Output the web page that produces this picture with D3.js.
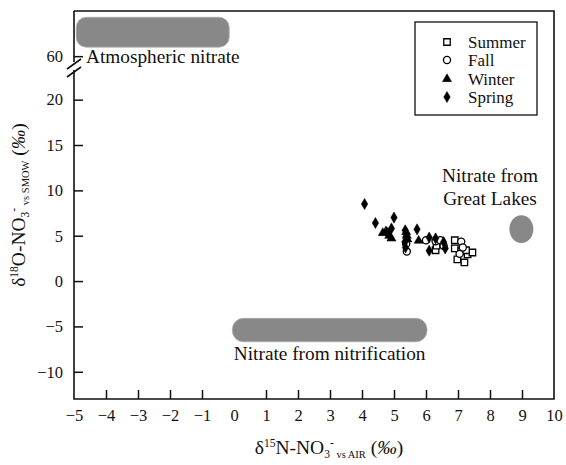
<!DOCTYPE html>
<html>
<head>
<meta charset="utf-8">
<script src="https://cdn.jsdelivr.net/npm/d3@7"></script>
<style>
  body { margin: 0; background: #fff; }
  svg { display: block; }
  svg text { font-family: "Liberation Serif", "Times New Roman", "DejaVu Serif", serif; fill: #111; }
</style>
</head>
<body>
<svg width="566" height="465"></svg>
<script>
// Isotope values (x = d15N, y = d18O, per mil)
const summer = [[6.3, 3.4], [6.33, 3.9], [6.9, 4.5], [6.9, 3.6], [6.98, 2.4], [7.2, 2.05], [7.1, 3.3], [7.3, 2.95], [7.45, 3.15], [7.25, 3.4]];
const fall = [[5.4, 3.25], [5.38, 4.1], [6.0, 4.5], [6.3, 4.4], [6.45, 4.5], [6.55, 3.9], [7.1, 4.35], [7.15, 3.7], [7.05, 3.0]];
const winter = [[4.65, 5.3], [4.75, 5.5], [4.85, 5.0], [4.92, 4.7], [5.38, 5.4], [5.4, 5.0], [5.42, 4.6], [5.77, 4.45]];
const spring = [[4.08, 8.5], [4.42, 6.4], [5.0, 7.0], [4.92, 5.8], [4.8, 5.3], [5.35, 5.6], [5.38, 4.9], [5.34, 4.3], [5.36, 3.7], [5.72, 5.7], [6.1, 4.8], [6.1, 3.35], [6.3, 4.7], [6.6, 3.6], [6.55, 4.3]];

const seasons = ["Summer", "Fall", "Winter", "Spring"];

// Source ranges: [x0, x1, y0, y1]
const atmospheric = [-4.93, -0.15, 61.0, 64.3];
const nitrification = [-0.05, 6.03, -6.69, -4.11];
const greatLakes = [8.98, 5.73, 0.375, 1.54]; // cx, cy, rx, ry

const xTicks = [-5, -4, -3, -2, -1, 0, 1, 2, 3, 4, 5, 6, 7, 8, 9, 10];
const yTicks = [-10, -5, 0, 5, 10, 15, 20, 60];

const plotL = 74, plotR = 554, plotT = 11, plotB = 399;

const svg = d3.select("svg");

const x = d3.scaleLinear().domain([-5, 10]).range([plotL, plotR]);
// broken y axis: lower part -13..23.6, upper part 58.8..65
const y = d3.scaleLinear().domain([-13, 23.6, 58.8, 65]).range([plotB, 67, 67, plotT]);

const grey = "#888";

// source regions
svg.append("rect")
    .attr("x", x(atmospheric[0])).attr("width", x(atmospheric[1]) - x(atmospheric[0]))
    .attr("y", y(atmospheric[3])).attr("height", y(atmospheric[2]) - y(atmospheric[3]))
    .attr("rx", 10).attr("fill", grey).attr("stroke", "#aaa").attr("stroke-width", 0.8);

svg.append("rect")
    .attr("x", x(nitrification[0])).attr("width", x(nitrification[1]) - x(nitrification[0]))
    .attr("y", y(nitrification[3])).attr("height", y(nitrification[2]) - y(nitrification[3]))
    .attr("rx", 11).attr("fill", grey).attr("stroke", "#aaa").attr("stroke-width", 0.8);

svg.append("ellipse")
    .attr("cx", x(greatLakes[0])).attr("cy", y(greatLakes[1]))
    .attr("rx", x(greatLakes[2]) - x(0)).attr("ry", y(0) - y(greatLakes[3]))
    .attr("fill", grey);

// labels for the sources
const labelSize = 19.3;
svg.append("text").attr("x", 86).attr("y", 63).attr("font-size", labelSize)
    .text("Atmospheric nitrate");
svg.append("text").attr("x", x((nitrification[0] + nitrification[1]) / 2)).attr("y", 360)
    .attr("text-anchor", "middle").attr("font-size", labelSize)
    .text("Nitrate from nitrification");
svg.append("text").attr("x", 490).attr("y", 182).attr("text-anchor", "middle").attr("font-size", labelSize)
    .text("Nitrate from");
svg.append("text").attr("x", 490).attr("y", 205).attr("text-anchor", "middle").attr("font-size", labelSize)
    .text("Great Lakes");

// axes
const xAxis = svg.append("g")
    .attr("transform", `translate(0,${plotB})`)
    .call(d3.axisBottom(x).tickValues(xTicks).tickSizeInner(-9).tickSizeOuter(0).tickPadding(11).tickFormat(d3.format("d")));
xAxis.select(".domain").remove();
xAxis.selectAll(".tick line").filter(d => d === 0 || d === -5 || d === 10).remove();

const yAxis = svg.append("g")
    .attr("transform", `translate(${plotL},0)`)
    .call(d3.axisLeft(y).tickValues(yTicks).tickSizeInner(-9).tickSizeOuter(0).tickPadding(11).tickFormat(d3.format("d")));
yAxis.select(".domain").remove();

svg.selectAll(".tick text").attr("font-size", 16.5);
xAxis.selectAll(".tick text").attr("dy", "0.65em");
svg.selectAll(".tick line").attr("stroke", "#111").attr("stroke-width", 1.5);

// frame
svg.append("path")
    .attr("d", `M${plotL},${plotT}H${plotR}V${plotB}H${plotL}V70 M${plotL},62V${plotT}`)
    .attr("fill", "none").attr("stroke", "#111").attr("stroke-width", 1.6);

// axis break marks
svg.append("path")
    .attr("d", "M67,69L81,59 M67,77L81,67")
    .attr("stroke", "#111").attr("stroke-width", 1.6);

// points
const shapes = {
    Summer: { type: d3.symbolSquare, size: 42, fill: "#fff" },
    Fall: { type: d3.symbolCircle, size: 40, fill: "#fff" },
    Winter: { type: d3.symbolTriangle, size: 36, fill: "#000" },
    Spring: { type: d3.symbolDiamond, size: 36, fill: "#000" }
};
const seriesData = { Summer: summer, Fall: fall, Winter: winter, Spring: spring };

seasons.forEach(s => {
    const sh = shapes[s];
    svg.append("g").selectAll("path")
        .data(seriesData[s])
        .join("path")
        .attr("transform", d => `translate(${x(d[0])},${y(d[1])})`)
        .attr("d", d3.symbol().type(sh.type).size(sh.size))
        .attr("fill", sh.fill)
        .attr("stroke", "#000")
        .attr("stroke-width", sh.fill === "#fff" ? 1.3 : 0.5);
});

// legend
const legend = svg.append("g");
legend.append("rect")
    .attr("x", 415).attr("y", 22).attr("width", 122).attr("height", 93)
    .attr("fill", "#fff").attr("stroke", "#111").attr("stroke-width", 1.3);
const rowY = [42, 60, 79, 97];
seasons.forEach((s, i) => {
    const sh = shapes[s];
    legend.append("path")
        .attr("transform", `translate(447,${rowY[i]})`)
        .attr("d", d3.symbol().type(sh.type).size(sh.size))
        .attr("fill", sh.fill).attr("stroke", "#000")
        .attr("stroke-width", sh.fill === "#fff" ? 1.3 : 0.5);
    legend.append("text")
        .attr("x", 468).attr("y", rowY[i] + 5.5)
        .attr("font-size", 17)
        .text(s);
});

// axis titles
const xt = svg.append("text")
    .attr("x", 329).attr("y", 454)
    .attr("text-anchor", "middle").attr("font-size", 19.5);
xt.append("tspan").text("δ");
xt.append("tspan").attr("font-size", 11.5).attr("dy", -7).text("15");
xt.append("tspan").attr("dy", 7).text("N-NO");
xt.append("tspan").attr("font-size", 11.5).attr("dy", 4).text("3");
xt.append("tspan").attr("font-size", 11.5).attr("dy", -12).text("-");
xt.append("tspan").attr("font-size", 10.5).attr("dy", 12).text(" vs AIR");
xt.append("tspan").attr("dy", -4).text(" (");
xt.append("tspan").attr("font-style", "italic").text("‰");
xt.append("tspan").text(")");

const yt = svg.append("text")
    .attr("transform", "translate(25,205) rotate(-90)")
    .attr("text-anchor", "middle").attr("font-size", 19.5);
yt.append("tspan").text("δ");
yt.append("tspan").attr("font-size", 11.5).attr("dy", -7).text("18");
yt.append("tspan").attr("dy", 7).text("O-NO");
yt.append("tspan").attr("font-size", 11.5).attr("dy", 4).text("3");
yt.append("tspan").attr("font-size", 11.5).attr("dy", -12).text("-");
yt.append("tspan").attr("font-size", 10.5).attr("dy", 12).text(" vs SMOW");
yt.append("tspan").attr("dy", -4).text(" (");
yt.append("tspan").attr("font-style", "italic").text("‰");
yt.append("tspan").text(")");
</script>
</body>
</html>
